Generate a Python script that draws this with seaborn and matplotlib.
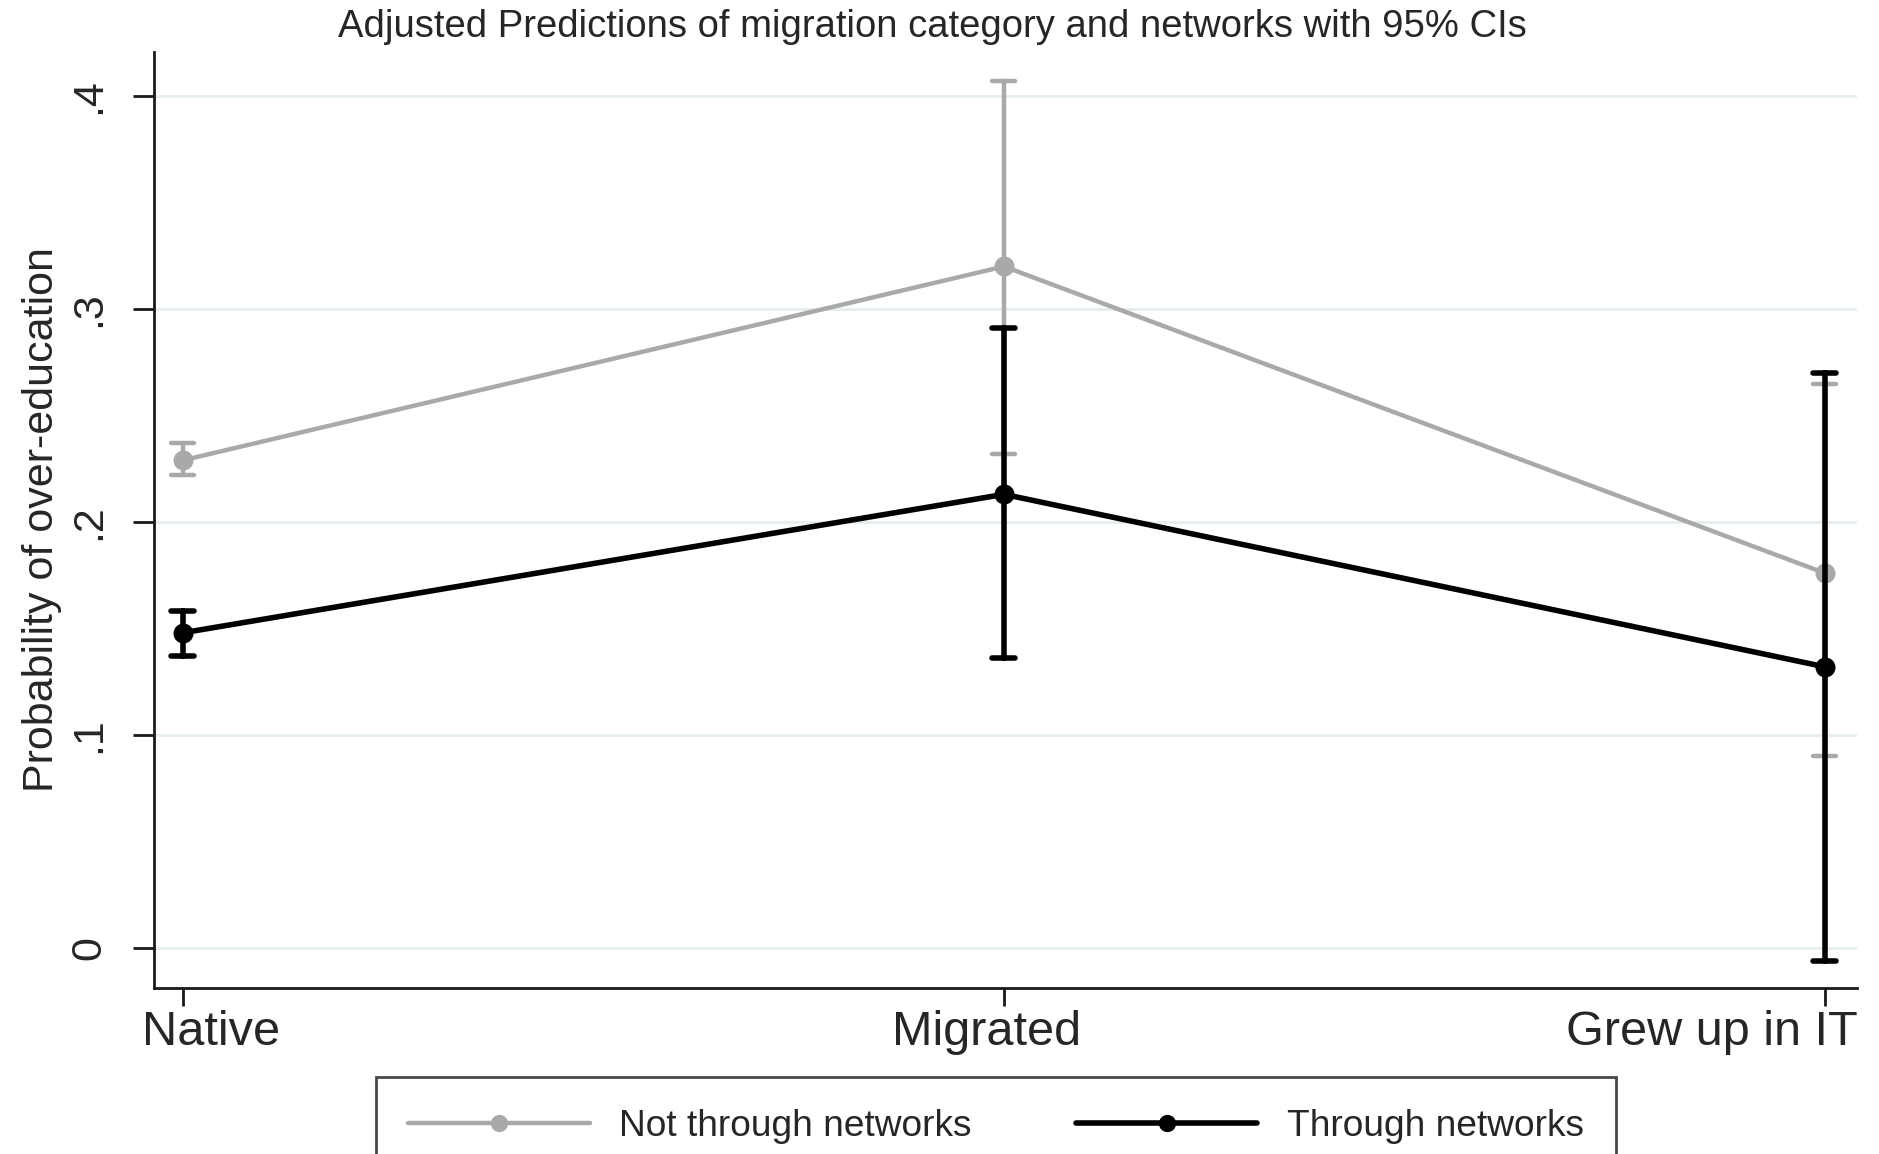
import numpy as np
import pandas as pd
import matplotlib
matplotlib.use("Agg")
import matplotlib.pyplot as plt
import matplotlib.transforms as mtransforms
import seaborn as sns

# Migration categories on the x axis
categories = ["Native", "Migrated", "Grew up in IT"]
groups = ["Not through networks", "Through networks"]

# Predicted probability of over-education with 95% confidence limits
not_net_pred = [0.229, 0.320, 0.176]
not_net_lo = [0.222, 0.232, 0.090]
not_net_hi = [0.237, 0.407, 0.265]

net_pred = [0.148, 0.213, 0.132]
net_lo = [0.137, 0.136, -0.006]
net_hi = [0.158, 0.291, 0.270]

y_ticks = [0, 0.1, 0.2, 0.3, 0.4]
y_tick_labels = ["0", ".1", ".2", ".3", ".4"]

# Long-form table: each point carries its lower limit, estimate and upper limit,
# so the median is the estimate and the range is the interval.
rows = []
for grp, pred, lo, hi in [
    (groups[0], not_net_pred, not_net_lo, not_net_hi),
    (groups[1], net_pred, net_lo, net_hi),
]:
    for cat, p, l, h in zip(categories, pred, lo, hi):
        for v in (l, p, h):
            rows.append({"category": cat, "group": grp, "value": v})
df = pd.DataFrame(rows)

sns.set_theme(style="white")
plt.rcParams["font.family"] = ["Liberation Sans", "DejaVu Sans"]

W, H = 1879, 1154
fig = plt.figure(figsize=(W / 100, H / 100), dpi=100)
ax = fig.add_axes([154 / W, 1 - 988 / H, (1857 - 154) / W, (988 - 52) / H])

gray = "#a9a9a9"
black = "#000000"

sns.pointplot(
    data=df, x="category", y="value", hue="group",
    order=categories, hue_order=groups,
    palette=[gray, black],
    estimator="median",
    errorbar=lambda v: (np.min(v), np.max(v)),
    capsize=0.028,
    markers="o",
    markersize=12,
    linewidth=3.2,
    err_kws={"linewidth": 3.2},
    dodge=False,
    ax=ax,
)

# Thicker strokes for the networks series
for ln in ax.lines:
    if matplotlib.colors.to_hex(ln.get_color()) == black:
        ln.set_linewidth(4)

ax.set_xlim(-0.0353, 2.039)
ax.set_ylim(-0.0188, 0.4207)
ax.set_yticks(y_ticks)
ax.set_yticklabels(y_tick_labels, rotation=90, va="center", fontsize=31)
ax.set_xlabel("")
ax.set_ylabel("Probability of over-education", fontsize=31)
ax.yaxis.set_label_coords(-0.054, 0.5)

# Horizontal reference lines
for t in y_ticks:
    ax.axhline(t, color="#e6eef0", linewidth=2, zorder=0)

for side in ("top", "right"):
    ax.spines[side].set_visible(False)
for side in ("left", "bottom"):
    ax.spines[side].set_color("#1a1a1a")
    ax.spines[side].set_linewidth(2)

ax.tick_params(axis="y", direction="out", length=15, width=2, color="#1a1a1a",
               pad=17, left=True)
ax.tick_params(axis="x", direction="out", length=13, width=2, color="#1a1a1a",
               pad=3, bottom=True, labelsize=35)

# Shift category labels horizontally
x_offsets = [28, -17, -113]
for lab, dx in zip(ax.get_xticklabels(), x_offsets):
    lab.set_fontsize(35)
    lab.set_transform(lab.get_transform() + mtransforms.ScaledTranslation(dx / 100, 0, fig.dpi_scale_trans))

fig.text(932 / W, 1 - 27 / H,
         "Adjusted Predictions of migration category and networks with 95% CIs",
         ha="center", va="center", fontsize=27.5)

handles, labels = ax.get_legend_handles_labels()
if ax.get_legend() is not None:
    ax.get_legend().remove()
for h in handles:
    h.set_markersize(10)
leg = fig.legend(
    handles, labels, loc="upper center", bbox_to_anchor=(996 / W, 1 - 1077 / H),
    ncol=2, fontsize=26.7, frameon=True, fancybox=False, borderaxespad=0,
    handlelength=4.9, handletextpad=0.8, columnspacing=2.8, borderpad=0.85,
)
leg.get_frame().set_edgecolor("#1a1a1a")
leg.get_frame().set_linewidth(2)

fig.savefig("out.png", dpi=100)
